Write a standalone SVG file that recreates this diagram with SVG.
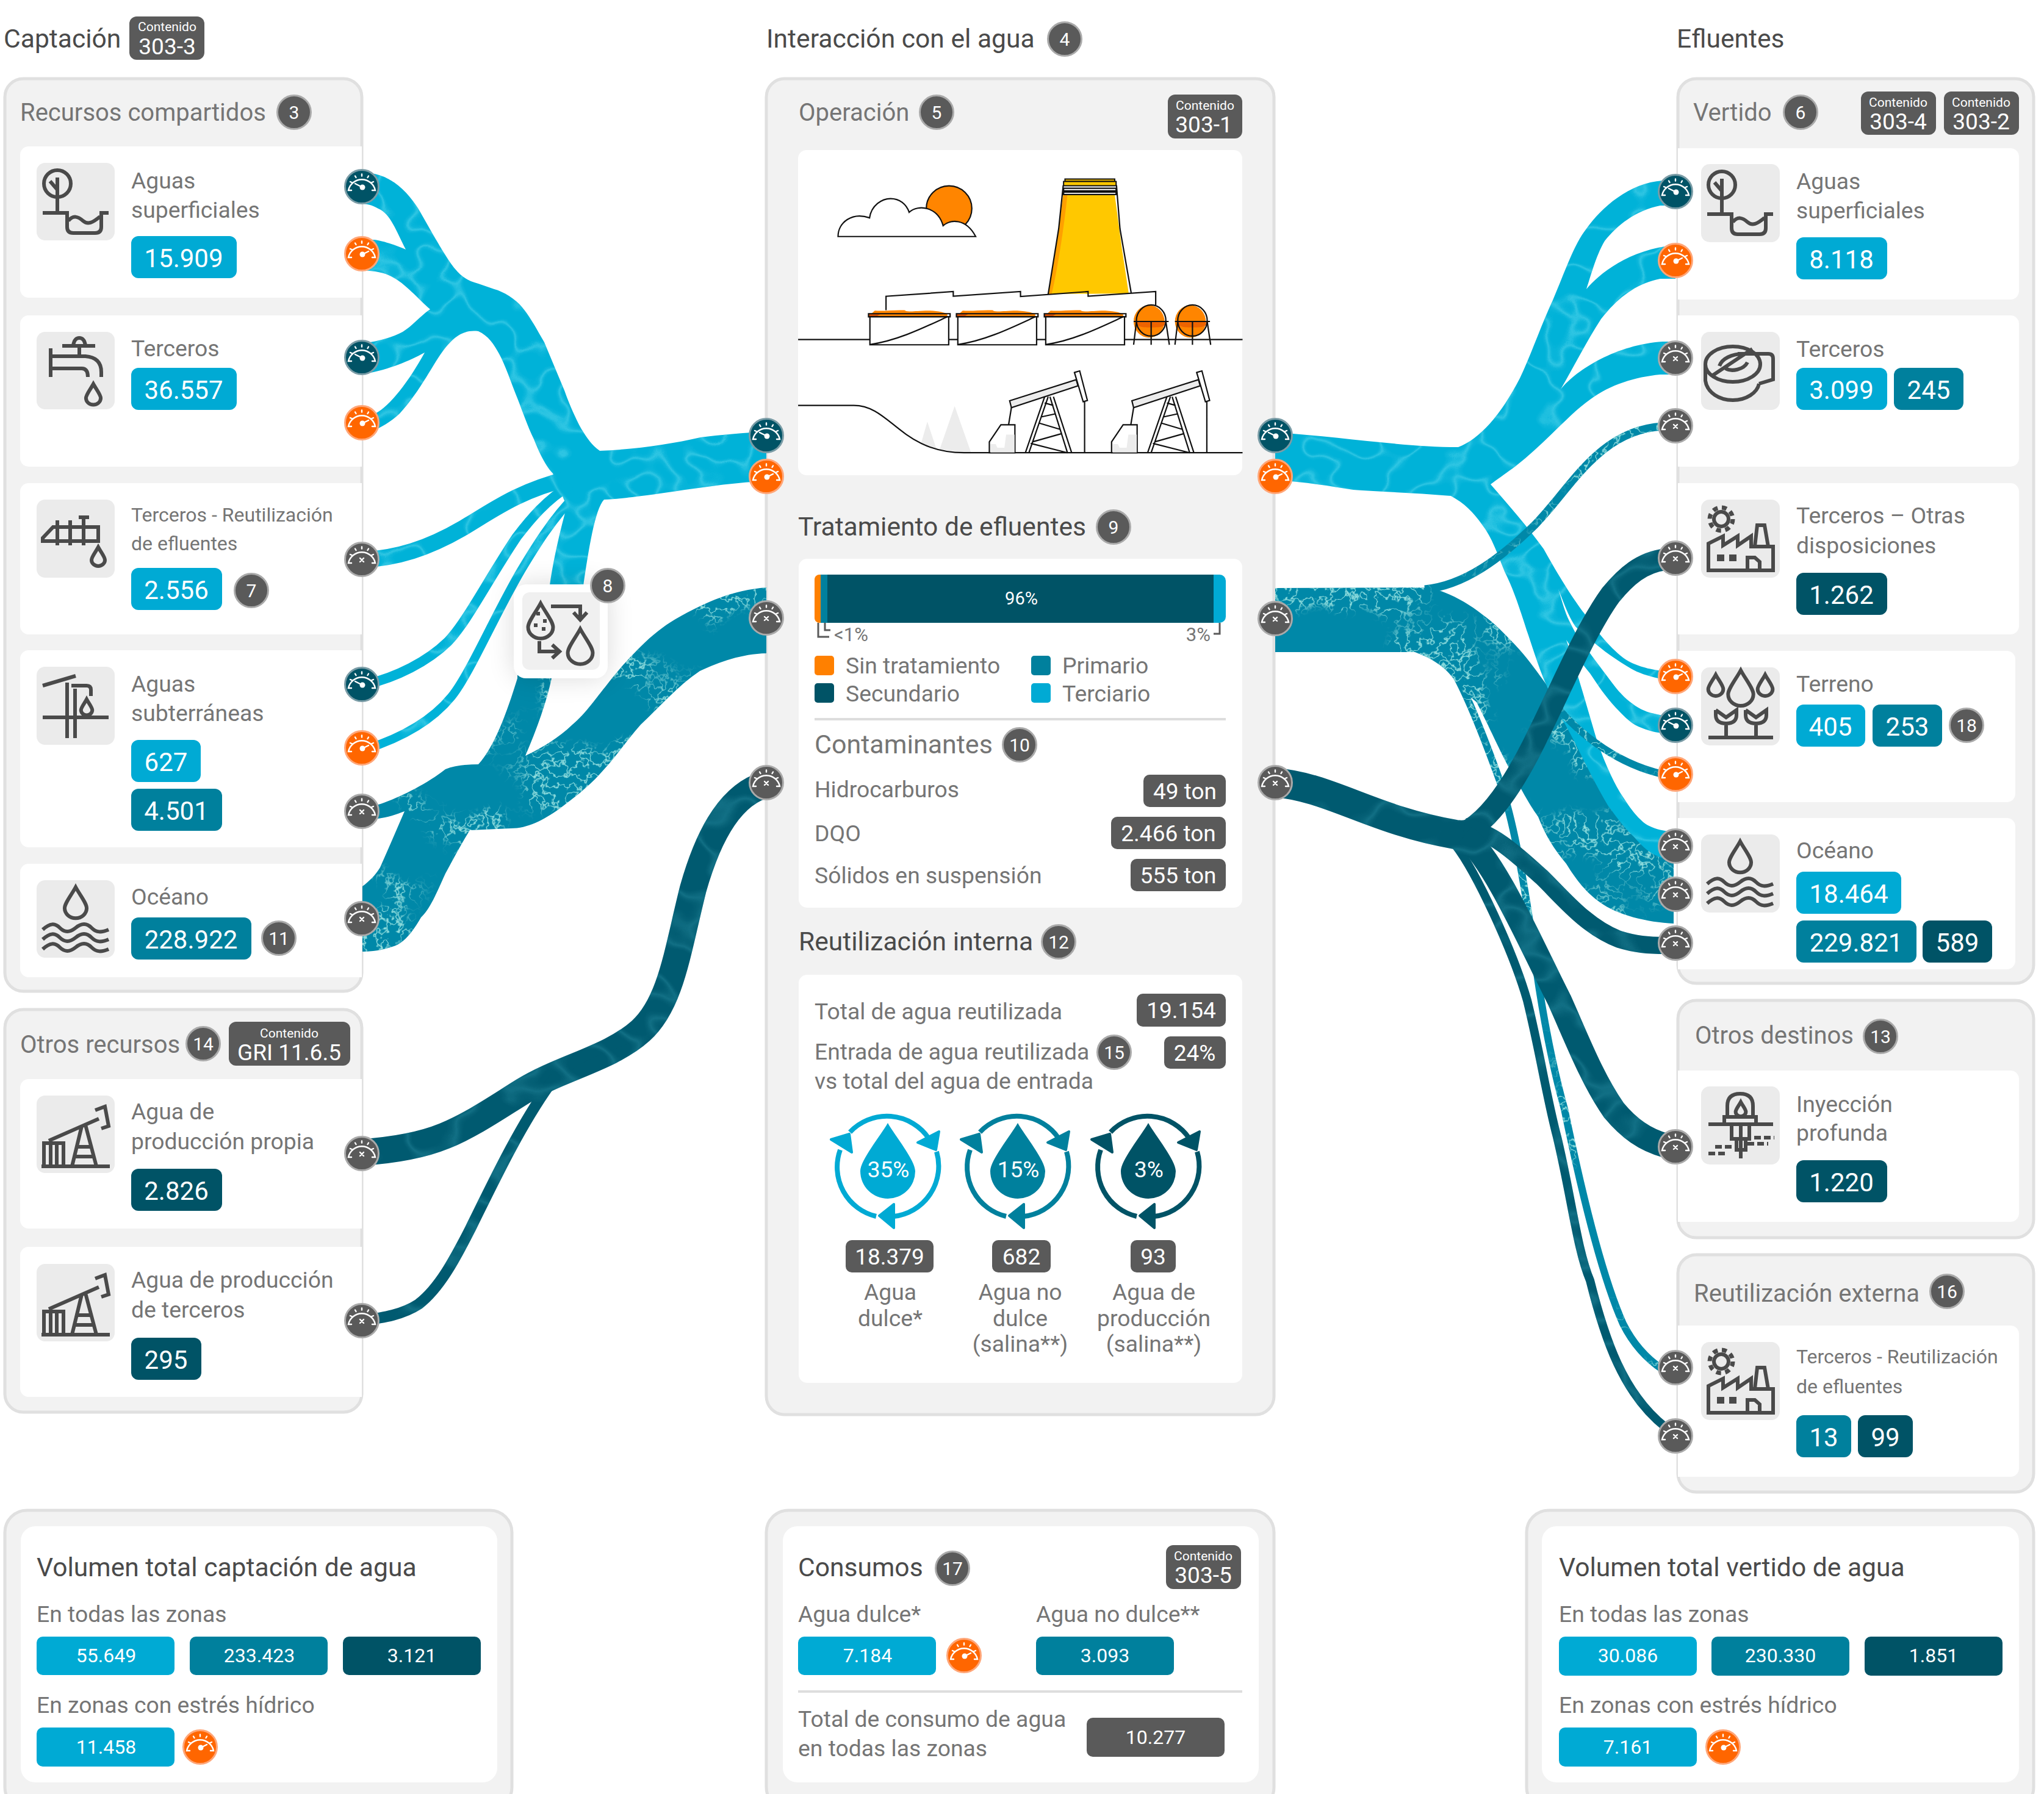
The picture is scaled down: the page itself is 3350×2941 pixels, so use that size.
<svg xmlns="http://www.w3.org/2000/svg" xmlns:xlink="http://www.w3.org/1999/xlink" width="3350" height="2941" viewBox="0 0 3350 2941">
<style>
text{font-family:Roboto,"Liberation Sans",sans-serif}
.h{font-size:42.600px;fill:#4a4a4a}
.s{font-size:40px;fill:#757575}
.l{font-size:37.300px;fill:#757575}
.l2{font-size:32px;fill:#757575}
.c{text-anchor:middle}
.v{font-size:42px;fill:#fff;text-anchor:middle}
.p{font-size:37px;fill:#fff;text-anchor:middle}
.q{font-size:32px;fill:#fff;text-anchor:middle}
.cn{font-size:21px;fill:#fff;text-anchor:middle}
.cv{font-size:37px;fill:#fff;text-anchor:middle}
.n{font-size:30px;fill:#fff;text-anchor:middle}
.panel{fill:#f2f2f2;stroke:#e0e0e0;stroke-width:5}
.card{fill:#fff}
.ibox{fill:#ebebeb}
.bl{fill:#00aad4}.bm{fill:#00809d}.bd{fill:#005366}.bg{fill:#5a5a5a}.bo{fill:#ff8000}
.ic{fill:none;stroke:#4a4a4a;stroke-width:6;vector-effect:non-scaling-stroke}
.ii{fill:#4a4a4a;stroke:none}
.il{fill:none;stroke:#111;stroke-width:2.2;vector-effect:non-scaling-stroke}
.iw{fill:#fff;stroke:#111;stroke-width:2.2;vector-effect:non-scaling-stroke}
.ie{fill:#ececec;stroke:#111;stroke-width:2.2;vector-effect:non-scaling-stroke}
.bad{fill:#5a5a5a;stroke:#aaa;stroke-width:3}
.fl{fill:#00b2d8}.ft{fill:#0088a8}.fd{fill:#005a70}
.sl{fill:none;stroke:#00b2d8}.st{fill:none;stroke:#0088a8}.sd{fill:none;stroke:#005a70}
.gl{fill:none;stroke:#fff;stroke-width:2.400;stroke-linecap:round}
.div{stroke:#ddd;stroke-width:4}
</style>
<defs>
<filter id="wl" filterUnits="userSpaceOnUse" x="0" y="0" width="3350" height="2941" color-interpolation-filters="sRGB">
<feTurbulence type="fractalNoise" baseFrequency=".013 .016" numOctaves="2" seed="4"/>
<feComponentTransfer><feFuncR type="table" tableValues="0 0 0 0 0 0 0 0 0 0 0 0 0 0 .2 .8 .2 0 0 0 0 0 0 0 0 0 0 0 0 0"/></feComponentTransfer>
<feColorMatrix type="matrix" values="0 0 0 0 .55  0 0 0 0 .93  0 0 0 0 .98  .42 0 0 0 0"/>
<feComposite in2="SourceAlpha" operator="in" result="v"/>
<feMerge><feMergeNode in="SourceGraphic"/><feMergeNode in="v"/></feMerge>
</filter>
<filter id="wt" filterUnits="userSpaceOnUse" x="0" y="0" width="3350" height="2941" color-interpolation-filters="sRGB">
<feTurbulence type="fractalNoise" baseFrequency=".055" numOctaves="3" seed="11"/>
<feComponentTransfer><feFuncR type="table" tableValues="0 0 0 0 0 0 0 0 0 0 0 0 0 0 0 .4 1 .4 0 0 0 0 0 0 0 0 0 0 0 0 0 0 0"/></feComponentTransfer>
<feColorMatrix type="matrix" values="0 0 0 0 .7  0 0 0 0 .95  0 0 0 0 .92  .85 0 0 0 0" result="f"/>
<feTurbulence type="fractalNoise" baseFrequency=".009" numOctaves="2" seed="5"/>
<feComponentTransfer><feFuncR type="table" tableValues="0 0 0 0 0 0 0 0 0 .15 .6 1 1 1 1 1 1 1 1 1"/></feComponentTransfer>
<feColorMatrix type="matrix" values="0 0 0 0 1  0 0 0 0 1  0 0 0 0 1  1 0 0 0 0" result="m"/>
<feComposite in="f" in2="m" operator="in" result="fm"/>
<feComposite in="fm" in2="SourceAlpha" operator="in" result="v"/>
<feMerge><feMergeNode in="SourceGraphic"/><feMergeNode in="v"/></feMerge>
</filter>
<filter id="wd" filterUnits="userSpaceOnUse" x="0" y="0" width="3350" height="2941" color-interpolation-filters="sRGB">
<feTurbulence type="fractalNoise" baseFrequency=".012 .015" numOctaves="2" seed="7"/>
<feComponentTransfer><feFuncR type="table" tableValues="0 0 0 0 0 0 0 0 0 .3 .9 .3 0 0 0 0 0 0 0 0"/></feComponentTransfer>
<feColorMatrix type="matrix" values="0 0 0 0 .2  0 0 0 0 .6  0 0 0 0 .68  .38 0 0 0 0"/>
<feComposite in2="SourceAlpha" operator="in" result="v"/>
<feMerge><feMergeNode in="SourceGraphic"/><feMergeNode in="v"/></feMerge>
</filter>
<filter id="sh" x="-40%" y="-40%" width="180%" height="180%"><feGaussianBlur stdDeviation="22"/></filter>
<path id="drop" class="ic" d="M0,-30C8,-15 22,2 22,12A22,20 0 0 1 -22,12C-22,2 -8,-15 0,-30Z"/>
<g id="gauge-glyph">
<path class="gl" d="M-17,6H-22A22.500,22.500 0 0 1 22,6H17M0,-20.500V-17.500M-11,-17.500L-9.500,-15M11,-17.500L9.500,-15M-19,-8L-16.500,-7M19,-8L16.500,-7"/>
</g>
<g id="gd"><circle r="27.500" fill="#005366" stroke="#7a9ca6" stroke-width="3"/><use href="#gauge-glyph"/><path class="gl" d="M1,1L-11,-5"/><circle cx="1" cy="1" r="4.500" fill="#fff"/></g>
<g id="go"><circle r="27.500" fill="#ff6600" stroke="#ffa678" stroke-width="3"/><use href="#gauge-glyph"/><path class="gl" d="M1,1L11,-4"/><circle cx="1" cy="1" r="4.500" fill="#fff"/></g>
<g id="gg"><circle r="27.500" fill="#5a5a5a" stroke="#aaa" stroke-width="3"/><use href="#gauge-glyph"/><path class="gl" d="M-3,-2L3,4M3,-2L-3,4"/></g>
<g id="i-surf"><circle class="ic" cx="34" cy="34" r="22"/><path class="ic" d="M34,24V82M22,30L34,44M10,82H50V105Q50,115 60,115H96Q106,115 106,105V82H118M52,95C60,85 68,88 76,95C84,102 92,98 104,88"/></g>
<g id="i-tap"><path class="ic" d="M23,27V74M23,40H80Q106,42 106,66V74M23,60H74Q84,60 84,74M42,23H96M70,23V40M60,22Q62,10 70,10Q78,10 80,22"/><use href="#drop" transform="translate(93,102) scale(.55)"/></g>
<g id="i-reuse"><path class="ic" d="M10,68V63L27,45H101V68ZM34,34V75M55,34V75M77,29V75M69,29H86"/><use href="#drop" transform="translate(101,93) scale(.5)"/></g>
<g id="i-sub"><path class="ic" d="M10,83H118M50,26V117M63,36V117M10,31L64,15M57,31H82Q89,31 89,38V48"/><use href="#drop" transform="translate(82,66) scale(.42)"/></g>
<g id="i-ocean"><use href="#drop" transform="translate(64,36) scale(.82)"/><path class="ic" d="M10,81C22,70 30,70 38,78C46,86 54,86 64,78C74,70 82,70 90,78C98,86 106,86 118,81M10,97C22,86 30,86 38,94C46,102 54,102 64,94C74,86 82,86 90,94C98,102 106,102 118,97M10,113C22,102 30,102 38,110C46,118 54,118 64,110C74,102 82,102 90,110C98,118 106,118 118,113"/></g>
<g id="i-pump"><path class="ic" d="M8,116H120M12,116V78H44V116M23,78V116M33,78V116M20,74L102,38M96,24L112,18L118,50L106,54M74,50L58,116M80,48L98,116M66,84H88M62,100H94"/></g>
<g id="i-fact"><circle class="ic" cx="33" cy="32" r="12"/><circle cx="33" cy="32" r="19" fill="none" stroke="#4a4a4a" stroke-width="7" stroke-dasharray="8 7"/><path class="ic" d="M12,116V72L36,60V75L60,60V75L82,60V77H118V116ZM88,77L92,42H104L110,77M76,116V95H88L96,102V116"/><rect class="ii" x="26" y="90" width="12" height="11"/><rect class="ii" x="46" y="90" width="12" height="11"/></g>
<g id="i-disc"><ellipse class="ic" cx="52" cy="53" rx="45" ry="29"/><path class="ic" d="M7,53V80C10,100 30,112 52,112C74,112 92,100 95,85M30,56C34,44 50,36 70,36M18,72L84,28M40,60C50,66 70,62 76,50M60,36H110Q118,36 118,44V78L95,85"/></g>
<g id="i-field"><use href="#drop" transform="translate(24,29) scale(.56)"/><use href="#drop" transform="translate(65,33) scale(.94)"/><use href="#drop" transform="translate(105,29) scale(.56)"/><path class="ic" d="M12,115H118M41,115V92M90,115V92M24,70V78Q24,92 41,92Q58,92 58,78V70L41,82L24,70M73,70V78Q73,92 90,92Q107,92 107,78V70L90,82L73,70"/></g>
<g id="i-inj"><path class="ic" d="M12,62H118M43,50V32Q43,12 64,12Q85,12 85,32V50M38,50H90V62H38ZM50,62V86H79V62M58,86V104H73V86M65,62V118"/><use href="#drop" transform="translate(65,37) scale(.38)"/><path class="ic" style="stroke-dasharray:11 5" d="M87,84H120M76,94H110M12,110H42M23,99H50"/></g>
<g id="ring">
<path fill="none" stroke="currentColor" stroke-width="8" d="M-62,-56A83,83 0 0 1 67,-46M80,-24A83,83 0 0 1 10,82M-19,82A83,83 0 0 1 -78,-27"/>
<path fill="currentColor" stroke="currentColor" stroke-width="4" stroke-linejoin="round" d="M84,-57L79,-27L49,-39ZM10,62V101L-14,81ZM-93,-44L-63,-53L-59,-23Z"/>
<path fill="currentColor" d="M0,-71C12,-50 45,-10 45,8A45,45 0 0 1 -45,8C-45,-10 -12,-50 0,-71Z"/>
</g>
<g id="tank"><path d="M345,773L355,763C380,766 410,760 440,762C445,768 460,765 500,763C530,763 555,768 562,775V783H337V773Z" fill="#ff8500"/><path d="M337,773H372L360,782H337Z" fill="#d94e00"/><rect class="il" x="337" y="773" width="233" height="10"/><rect class="iw" x="341" y="783" width="225" height="90"/><path class="il" d="M341,872C420,860 500,815 562,783"/></g>
<g id="sph"><ellipse cx="-2" cy="3" rx="44" ry="52" fill="#ff8500" transform="translate(-4,0)"/><path d="M-42,3H42C42,20 30,22 0,22C-30,22 -42,20 -42,3Z" fill="#e85a00" opacity=".8"/><ellipse class="il" cx="0" cy="0" rx="42" ry="50"/><path class="il" d="M-50,3H50M0,3V78M-42,3L-50,78M42,3L52,78"/></g>
<g id="jack"><path class="iw" d="M682,1220V1185L715,1130H755V1220Z"/><path d="M685,1219V1192H700L705,1204H725L730,1162H754V1219Z" fill="#ececec"/><path class="il" d="M745,1075L737,1130"/><path class="ie" d="M740,1053L930,985L935,1005L745,1075Z"/><path class="iw" d="M925,962L940,957L962,1052L950,1056Z"/><path class="il" d="M954,1056V1220M840,1040L785,1220M850,1040L795,1220M855,1040L905,1220M865,1040L917,1220M840,1060L865,1068M830,1105L870,1095M825,1125L885,1145M805,1185L890,1158M800,1190L905,1220"/></g>
</defs>

<g id="titles">
<text class="h" x="6" y="78">Captación</text>
<g id="c-303-3"><rect class="bg" x="212" y="27" width="123" height="71" rx="12"/><text class="cn" x="274" y="51">Contenido</text><text class="cv" x="274" y="89">303-3</text></g>
<text class="h" x="1256" y="78">Interacción con el agua</text>
<circle class="bad" cx="1745" cy="64" r="27.500"/><text class="n" x="1745" y="75">4</text>
<text class="h" x="2748" y="78">Efluentes</text>
</g>

<g id="panel-recursos">
<rect class="panel" x="8" y="129" width="585" height="1496" rx="30"/>
<text class="s" x="33" y="198">Recursos compartidos</text>
<circle class="bad" cx="482" cy="184" r="27.500"/><text class="n" x="482" y="195">3</text>
</g>
<g id="n-surf-in">
<path class="card" d="M593,240H47A14,14 0 0 0 33,254V474A14,14 0 0 0 47,488H593Z"/>
<rect class="ibox" x="60" y="267" width="128" height="127" rx="14"/><use href="#i-surf" x="60" y="267"/>
<text class="l" x="215" y="309">Aguas</text><text class="l" x="215" y="357">superficiales</text>
<rect class="bl" x="215" y="387" width="173" height="69" rx="12"/><text class="v" x="301" y="438">15.909</text>
</g>
<g id="n-terc-in">
<path class="card" d="M593,517H47A14,14 0 0 0 33,531V751A14,14 0 0 0 47,765H593Z"/>
<rect class="ibox" x="60" y="544" width="128" height="127" rx="14"/><use href="#i-tap" x="60" y="544"/>
<text class="l" x="215" y="584">Terceros</text>
<rect class="bl" x="215" y="603" width="173" height="69" rx="12"/><text class="v" x="301" y="654">36.557</text>
</g>
<g id="n-reuse-in">
<path class="card" d="M593,792H47A14,14 0 0 0 33,806V1026A14,14 0 0 0 47,1040H593Z"/>
<rect class="ibox" x="60" y="819" width="128" height="128" rx="14"/><use href="#i-reuse" x="60" y="819"/>
<text class="l2" x="215" y="855">Terceros - Reutilización</text><text class="l2" x="215" y="902">de efluentes</text>
<rect class="bl" x="215" y="931" width="149" height="69" rx="12"/><text class="v" x="289" y="982">2.556</text>
<circle class="bad" cx="412" cy="968" r="27.500"/><text class="n" x="412" y="979">7</text>
</g>
<g id="n-sub-in">
<path class="card" d="M593,1066H47A14,14 0 0 0 33,1080V1375A14,14 0 0 0 47,1389H593Z"/>
<rect class="ibox" x="60" y="1093" width="128" height="128" rx="14"/><use href="#i-sub" x="60" y="1093"/>
<text class="l" x="215" y="1134">Aguas</text><text class="l" x="215" y="1182">subterráneas</text>
<rect class="bl" x="215" y="1213" width="114" height="69" rx="12"/><text class="v" x="272" y="1264">627</text>
<rect class="bm" x="215" y="1293" width="149" height="69" rx="12"/><text class="v" x="289" y="1344">4.501</text>
</g>
<g id="n-ocean-in">
<path class="card" d="M593,1416H47A14,14 0 0 0 33,1430V1588A14,14 0 0 0 47,1602H593Z"/>
<rect class="ibox" x="60" y="1443" width="128" height="127" rx="14"/><use href="#i-ocean" x="60" y="1443"/>
<text class="l" x="215" y="1483">Océano</text>
<rect class="bm" x="215" y="1504" width="197" height="69" rx="12"/><text class="v" x="313" y="1555">228.922</text>
<circle class="bad" cx="457" cy="1538" r="27.500"/><text class="n" x="457" y="1549">11</text>
</g>

<g id="panel-otros">
<rect class="panel" x="8" y="1655" width="585" height="660" rx="30"/>
<text class="s" x="33" y="1726">Otros recursos</text>
<circle class="bad" cx="333" cy="1711" r="27.500"/><text class="n" x="333" y="1722">14</text>
<g id="c-gri"><rect class="bg" x="375" y="1675" width="199" height="72" rx="12"/><text class="cn" x="474" y="1701">Contenido</text><text class="cv" x="474" y="1738">GRI 11.6.5</text></g>
</g>
<g id="n-prod-own">
<path class="card" d="M593,1769H47A14,14 0 0 0 33,1783V2000A14,14 0 0 0 47,2014H593Z"/>
<rect class="ibox" x="60" y="1796" width="128" height="127" rx="14"/><use href="#i-pump" x="60" y="1796"/>
<text class="l" x="215" y="1835">Agua de</text><text class="l" x="215" y="1884">producción propia</text>
<rect class="bd" x="215" y="1916" width="149" height="69" rx="12"/><text class="v" x="289" y="1967">2.826</text>
</g>
<g id="n-prod-third">
<path class="card" d="M593,2044H47A14,14 0 0 0 33,2058V2276A14,14 0 0 0 47,2290H593Z"/>
<rect class="ibox" x="60" y="2072" width="128" height="127" rx="14"/><use href="#i-pump" x="60" y="2072"/>
<text class="l" x="215" y="2111">Agua de producción</text><text class="l" x="215" y="2160">de terceros</text>
<rect class="bd" x="215" y="2193" width="115" height="69" rx="12"/><text class="v" x="272" y="2244">295</text>
</g>

<g id="panel-operacion">
<rect class="panel" x="1256" y="129" width="832" height="2190" rx="30"/>
<text class="s" x="1309" y="198">Operación</text>
<circle class="bad" cx="1535" cy="184" r="27.500"/><text class="n" x="1535" y="195">5</text>
<g id="c-303-1"><rect class="bg" x="1914" y="155" width="122" height="72" rx="12"/><text class="cn" x="1975" y="180">Contenido</text><text class="cv" x="1973" y="217">303-1</text></g>
</g>
<g id="n-operation">
<rect class="card" x="1308" y="246" width="728" height="533" rx="14"/>
<g transform="translate(1230 120) scale(.574 .51)">
<ellipse cx="567" cy="435" rx="65" ry="73" fill="#ff8500" stroke="#111" stroke-width="2.200" vector-effect="non-scaling-stroke"/>
<path class="iw" d="M250,525C250,480 290,445 340,465C345,425 375,403 400,403C425,403 445,420 453,447C480,420 535,430 550,490C570,470 615,465 643,525Z"/>
<path d="M850,710L880,500L893,390H1040L1060,560L1080,708Z" fill="#ffc800"/>
<path d="M850,710L880,500L893,390H905C895,500 875,640 860,710Z" fill="#ffa000"/>
<path class="il" d="M850,710L880,500L893,360M1045,360L1055,500L1087,706"/>
<rect x="898" y="340" width="142" height="8" fill="#ffc800" stroke="#111" stroke-width="2" vector-effect="non-scaling-stroke"/>
<rect x="894" y="348" width="150" height="14" fill="#ffc800" stroke="#111" stroke-width="2" vector-effect="non-scaling-stroke"/>
<rect class="iw" x="894" y="370" width="150" height="8"/><rect class="iw" x="894" y="382" width="150" height="8"/>
<path class="il" d="M136,856H1405"/>
<path class="il" d="M387,762V717L579,702V717L771,702V718L964,702V717L1157,702V745"/>
<use href="#tank"/><use href="#tank" x="251"/><use href="#tank" x="502"/>
<use href="#sph" x="1144" y="795"/><use href="#sph" x="1262" y="795"/>
<path d="M487,1190L505,1120L530,1205ZM540,1210L583,1070L630,1220Z" fill="#ececec"/>
<path class="il" d="M136,1068H295C400,1068 430,1220 610,1220H1405"/>
<use href="#jack"/><use href="#jack" x="349"/>
</g>
</g>

<g id="n-treatment">
<text class="h" x="1308" y="878">Tratamiento de efluentes</text>
<circle class="bad" cx="1825" cy="864" r="27.500"/><text class="n" x="1825" y="875">9</text>
<rect class="card" x="1309" y="916" width="727" height="572" rx="14"/>
<rect class="bl" x="1335" y="942" width="674" height="79" rx="10"/>
<rect class="bo" x="1335" y="942" width="20" height="79" rx="8"/>
<rect class="bm" x="1345" y="942" width="11" height="79"/>
<rect class="bd" x="1356" y="942" width="633" height="79"/>
<text x="1674" y="991" text-anchor="middle" font-size="29" fill="#fff">96%</text>
<path d="M1341,1021V1044H1359M1352,1021V1033H1361M1999,1021V1039H1989" fill="none" stroke="#5a5a5a" stroke-width="3"/>
<text x="1367" y="1051" font-size="31" fill="#757575">&lt;1%</text>
<text x="1984" y="1051" font-size="31" fill="#757575" text-anchor="end">3%</text>
<rect class="bo" x="1335" y="1075" width="32" height="32" rx="5"/><text class="l" x="1386" y="1104">Sin tratamiento</text>
<rect class="bm" x="1690" y="1075" width="32" height="32" rx="5"/><text class="l" x="1741" y="1104">Primario</text>
<rect class="bd" x="1335" y="1120" width="32" height="32" rx="5"/><text class="l" x="1386" y="1150">Secundario</text>
<rect class="bl" x="1690" y="1120" width="32" height="32" rx="5"/><text class="l" x="1741" y="1150">Terciario</text>
<line class="div" x1="1335" y1="1179" x2="2009" y2="1179"/>
<text x="1335" y="1235" font-size="43" fill="#757575">Contaminantes</text>
<circle class="bad" cx="1671" cy="1221" r="27.500"/><text class="n" x="1671" y="1232">10</text>
<text class="l" x="1335" y="1307">Hidrocarburos</text>
<rect class="bg" x="1874" y="1270" width="135" height="53" rx="10"/><text class="p" x="1942" y="1310">49 ton</text>
<text class="l" x="1335" y="1379">DQO</text>
<rect class="bg" x="1821" y="1339" width="188" height="53" rx="10"/><text class="p" x="1915" y="1379">2.466 ton</text>
<text class="l" x="1335" y="1448">Sólidos en suspensión</text>
<rect class="bg" x="1853" y="1408" width="156" height="53" rx="10"/><text class="p" x="1931" y="1448">555 ton</text>
</g>

<g id="n-reuse">
<text class="h" x="1309" y="1558">Reutilización interna</text>
<circle class="bad" cx="1735" cy="1544" r="27.500"/><text class="n" x="1735" y="1555">12</text>
<rect class="card" x="1309" y="1598" width="727" height="669" rx="14"/>
<text class="l" x="1335" y="1671">Total de agua reutilizada</text>
<rect class="bg" x="1863" y="1629" width="146" height="54" rx="10"/><text class="p" x="1936" y="1669">19.154</text>
<text class="l" x="1335" y="1737">Entrada de agua reutilizada</text>
<text class="l" x="1335" y="1785">vs total del agua de entrada</text>
<circle class="bad" cx="1826" cy="1725" r="27.500"/><text class="n" x="1826" y="1736">15</text>
<rect class="bg" x="1908" y="1699" width="101" height="53" rx="10"/><text class="p" x="1958" y="1739">24%</text>
<use href="#ring" x="1455" y="1912" style="color:#00aad4"/>
<use href="#ring" x="1668" y="1912" style="color:#00809d"/>
<use href="#ring" x="1882" y="1912" style="color:#005366"/>
<text class="p" x="1456" y="1930">35%</text><text class="p" x="1669" y="1930">15%</text><text class="p" x="1883" y="1930">3%</text>
<rect class="bg" x="1386" y="2033" width="144" height="53" rx="10"/><text class="p" x="1458" y="2073">18.379</text>
<rect class="bg" x="1626" y="2033" width="96" height="53" rx="10"/><text class="p" x="1674" y="2073">682</text>
<rect class="bg" x="1853" y="2033" width="74" height="53" rx="10"/><text class="p" x="1890" y="2073">93</text>
<text class="l c" x="1459" y="2131">Agua</text><text class="l c" x="1459" y="2174">dulce*</text>
<text class="l c" x="1672" y="2131">Agua no</text><text class="l c" x="1672" y="2174">dulce</text><text class="l c" x="1672" y="2216">(salina**)</text>
<text class="l c" x="1891" y="2131">Agua de</text><text class="l c" x="1891" y="2174">producción</text><text class="l c" x="1891" y="2216">(salina**)</text>
</g>

<g id="panel-vertido">
<rect class="panel" x="2750" y="129" width="583" height="1483" rx="30"/>
<text class="s" x="2775" y="198">Vertido</text>
<circle class="bad" cx="2951" cy="184" r="27.500"/><text class="n" x="2951" y="195">6</text>
<g id="c-303-4"><rect class="bg" x="3050" y="150" width="123" height="71" rx="12"/><text class="cn" x="3111" y="175">Contenido</text><text class="cv" x="3111" y="212">303-4</text></g>
<g id="c-303-2"><rect class="bg" x="3186" y="150" width="123" height="71" rx="12"/><text class="cn" x="3247" y="175">Contenido</text><text class="cv" x="3247" y="212">303-2</text></g>
</g>
<g id="n-surf-out">
<path class="card" d="M2750,243H3295A14,14 0 0 1 3309,257V477A14,14 0 0 1 3295,491H2750Z"/>
<rect class="ibox" x="2788" y="269" width="129" height="128" rx="14"/><use href="#i-surf" x="2788" y="269"/>
<text class="l" x="2944" y="310">Aguas</text><text class="l" x="2944" y="358">superficiales</text>
<rect class="bl" x="2944" y="389" width="149" height="69" rx="12"/><text class="v" x="3018" y="440">8.118</text>
</g>
<g id="n-terc-out">
<path class="card" d="M2750,517H3295A14,14 0 0 1 3309,531V751A14,14 0 0 1 3295,765H2750Z"/>
<rect class="ibox" x="2788" y="544" width="129" height="128" rx="14"/><use href="#i-disc" x="2788" y="544"/>
<text class="l" x="2944" y="585">Terceros</text>
<rect class="bl" x="2944" y="603" width="149" height="69" rx="12"/><text class="v" x="3018" y="654">3.099</text>
<rect class="bm" x="3104" y="603" width="114" height="69" rx="12"/><text class="v" x="3161" y="654">245</text>
</g>
<g id="n-otras-out">
<path class="card" d="M2750,792H3295A14,14 0 0 1 3309,806V1026A14,14 0 0 1 3295,1040H2750Z"/>
<rect class="ibox" x="2788" y="819" width="129" height="128" rx="14"/><use href="#i-fact" x="2788" y="819"/>
<text class="l" x="2944" y="858">Terceros – Otras</text><text class="l" x="2944" y="907">disposiciones</text>
<rect class="bd" x="2944" y="939" width="149" height="69" rx="12"/><text class="v" x="3018" y="990">1.262</text>
</g>
<g id="n-land-out">
<path class="card" d="M2750,1067H3289A14,14 0 0 1 3303,1081V1301A14,14 0 0 1 3289,1315H2750Z"/>
<rect class="ibox" x="2788" y="1094" width="129" height="128" rx="14"/><use href="#i-field" x="2788" y="1094"/>
<text class="l" x="2944" y="1134">Terreno</text>
<rect class="bl" x="2944" y="1155" width="113" height="69" rx="12"/><text class="v" x="3000" y="1206">405</text>
<rect class="bm" x="3069" y="1155" width="114" height="69" rx="12"/><text class="v" x="3126" y="1206">253</text>
<circle class="bad" cx="3223" cy="1189" r="27.500"/><text class="n" x="3223" y="1200">18</text>
</g>
<g id="n-ocean-out">
<path class="card" d="M2750,1341H3289A14,14 0 0 1 3303,1355V1575A14,14 0 0 1 3289,1589H2750Z"/>
<rect class="ibox" x="2788" y="1368" width="129" height="128" rx="14"/><use href="#i-ocean" x="2788" y="1368"/>
<text class="l" x="2944" y="1407">Océano</text>
<rect class="bl" x="2944" y="1429" width="172" height="69" rx="12"/><text class="v" x="3030" y="1480">18.464</text>
<rect class="bm" x="2944" y="1509" width="197" height="69" rx="12"/><text class="v" x="3042" y="1560">229.821</text>
<rect class="bd" x="3151" y="1509" width="114" height="69" rx="12"/><text class="v" x="3208" y="1560">589</text>
</g>
<g id="panel-destinos">
<rect class="panel" x="2750" y="1640" width="583" height="389" rx="30"/>
<text class="s" x="2778" y="1711">Otros destinos</text>
<circle class="bad" cx="3082" cy="1699" r="27.500"/><text class="n" x="3082" y="1710">13</text>
</g>
<g id="n-inj-out">
<path class="card" d="M2750,1755H3295A14,14 0 0 1 3309,1769V1989A14,14 0 0 1 3295,2003H2750Z"/>
<rect class="ibox" x="2788" y="1781" width="129" height="128" rx="14"/><use href="#i-inj" x="2788" y="1781"/>
<text class="l" x="2944" y="1823">Inyección</text><text class="l" x="2944" y="1870">profunda</text>
<rect class="bd" x="2944" y="1902" width="149" height="69" rx="12"/><text class="v" x="3018" y="1953">1.220</text>
</g>
<g id="panel-externa">
<rect class="panel" x="2750" y="2057" width="583" height="389" rx="30"/>
<text class="s" x="2776" y="2134">Reutilización externa</text>
<circle class="bad" cx="3191" cy="2117" r="27.500"/><text class="n" x="3191" y="2128">16</text>
</g>
<g id="n-ext-out">
<path class="card" d="M2750,2173H3295A14,14 0 0 1 3309,2187V2407A14,14 0 0 1 3295,2421H2750Z"/>
<rect class="ibox" x="2788" y="2200" width="129" height="128" rx="14"/><use href="#i-fact" x="2788" y="2200"/>
<text class="l2" x="2944" y="2235">Terceros - Reutilización</text><text class="l2" x="2944" y="2284">de efluentes</text>
<rect class="bm" x="2944" y="2320" width="90" height="69" rx="12"/><text class="v" x="2989" y="2371">13</text>
<rect class="bd" x="3045" y="2320" width="90" height="69" rx="12"/><text class="v" x="3090" y="2371">99</text>
</g>

<g id="n-total-in">
<rect class="panel" x="8" y="2476" width="831" height="490" rx="36"/>
<rect class="card" x="34" y="2502" width="781" height="420" rx="24"/>
<text class="h" x="60" y="2584">Volumen total captación de agua</text>
<text class="l" x="60" y="2659">En todas las zonas</text>
<rect class="bl" x="60" y="2683" width="226" height="63" rx="10"/><text class="q" x="174" y="2725">55.649</text>
<rect class="bm" x="311" y="2683" width="226" height="63" rx="10"/><text class="q" x="425" y="2725">233.423</text>
<rect class="bd" x="562" y="2683" width="226" height="63" rx="10"/><text class="q" x="675" y="2725">3.121</text>
<text class="l" x="60" y="2808">En zonas con estrés hídrico</text>
<rect class="bl" x="60" y="2832" width="226" height="64" rx="10"/><text class="q" x="174" y="2875">11.458</text>
<use href="#go" x="328" y="2864"/>
</g>
<g id="n-consumption">
<rect class="panel" x="1256" y="2476" width="832" height="490" rx="36"/>
<rect class="card" x="1283" y="2502" width="780" height="420" rx="24"/>
<text class="h" x="1308" y="2584">Consumos</text>
<circle class="bad" cx="1561" cy="2571" r="27.500"/><text class="n" x="1561" y="2582">17</text>
<g id="c-303-5"><rect class="bg" x="1911" y="2533" width="123" height="72" rx="12"/><text class="cn" x="1972" y="2558">Contenido</text><text class="cv" x="1972" y="2595">303-5</text></g>
<text class="l" x="1308" y="2659">Agua dulce*</text><text class="l" x="1698" y="2659">Agua no dulce**</text>
<rect class="bl" x="1308" y="2683" width="226" height="63" rx="10"/><text class="q" x="1422" y="2725">7.184</text>
<use href="#go" x="1580" y="2714"/>
<rect class="bm" x="1698" y="2683" width="226" height="63" rx="10"/><text class="q" x="1811" y="2725">3.093</text>
<line class="div" x1="1308" y1="2773" x2="2036" y2="2773"/>
<text class="l" x="1308" y="2831">Total de consumo de agua</text><text class="l" x="1308" y="2879">en todas las zonas</text>
<rect class="bg" x="1781" y="2816" width="226" height="64" rx="10"/><text class="q" x="1894" y="2859">10.277</text>
</g>
<g id="n-total-out">
<rect class="panel" x="2502" y="2476" width="831" height="490" rx="36"/>
<rect class="card" x="2527" y="2502" width="782" height="420" rx="24"/>
<text class="h" x="2555" y="2584">Volumen total vertido de agua</text>
<text class="l" x="2555" y="2659">En todas las zonas</text>
<rect class="bl" x="2555" y="2683" width="226" height="64" rx="10"/><text class="q" x="2668" y="2725">30.086</text>
<rect class="bm" x="2805" y="2683" width="226" height="64" rx="10"/><text class="q" x="2918" y="2725">230.330</text>
<rect class="bd" x="3056" y="2683" width="226" height="64" rx="10"/><text class="q" x="3169" y="2725">1.851</text>
<text class="l" x="2555" y="2808">En zonas con estrés hídrico</text>
<rect class="bl" x="2555" y="2832" width="226" height="64" rx="10"/><text class="q" x="2668" y="2875">7.161</text>
<use href="#go" x="2824" y="2864"/>
</g>

<g id="connectors">
<g filter="url(#wt)">
<path class="ft" d="M593,1320L620,1319C650,1310 700,1285 730,1261C745,1255 765,1253 784,1253C810,1225 830,1170 848,1112L848,1100L906,1100L904,1112C896,1150 880,1195 861,1239C890,1225 915,1210 938,1188C960,1170 980,1140 992,1126C1015,1095 1040,1070 1050,1060C1070,1040 1090,1025 1107,1015C1160,985 1200,968 1256,963L1256,1071C1215,1072 1180,1085 1147,1100C1110,1125 1080,1160 1050,1188C1030,1210 1010,1240 992,1259C970,1285 945,1305 918,1325C890,1345 865,1358 837,1358L770,1361C755,1385 745,1405 730,1432C715,1465 705,1490 690,1504C675,1530 660,1548 643,1552C625,1558 610,1560 594,1560L594,1453C605,1445 615,1435 623,1422C635,1395 650,1360 663,1330C650,1335 635,1340 620,1342L593,1345Z"/>
<path class="ft" d="M2090,964L2330,963C2345,964 2355,966 2367,971C2390,980 2410,992 2429,1007C2450,1022 2465,1038 2484,1058C2500,1075 2515,1095 2530,1116C2570,1170 2640,1340 2743,1390L2743,1514C2700,1512 2650,1500 2622,1479C2600,1463 2585,1445 2567,1416C2550,1395 2535,1375 2521,1339C2500,1310 2490,1285 2475,1262C2460,1235 2440,1190 2420,1151L2392,1128C2380,1105 2360,1084 2319,1069L2090,1069Z"/>
</g>
<g filter="url(#wl)">
<path class="fl" d="M593,283C620,283 635,292 646,299C665,312 680,332 689,348L710,385C720,402 735,428 746,441C755,452 765,460 784,465L810,474C825,478 845,490 856,504C868,518 880,540 892,561L925,640C932,660 945,690 954,705C962,718 970,730 983,739C1040,737 1100,728 1148,717C1180,713 1220,709 1256,708L1256,789C1200,790 1120,804 1060,812C1030,816 1010,818 990,819C975,835 965,900 956,960L901,960C905,930 915,880 929,830L906,776C895,765 885,745 875,720C865,700 855,670 846,648C838,628 828,598 818,580C810,565 800,550 784,543C760,540 745,552 730,570C710,595 690,640 655,678C640,692 625,700 610,707L593,715L593,685L615,678C640,665 670,625 696,578C670,592 640,605 598,613L593,613L593,560L598,562C620,560 645,552 660,544C675,535 690,517 705,507C685,490 665,465 641,453C630,447 615,444 593,443L593,392L612,393C620,393 645,400 665,409C650,380 640,350 620,342C610,336 600,334 593,334Z"/>
<path class="sl" stroke-width="26" d="M593,918C650,915 700,900 760,865C810,835 850,805 930,785"/>
<path class="sl" stroke-width="16" d="M600,1122C650,1110 700,1085 734,1052C765,1020 800,950 847,880C870,850 895,820 935,795"/>
<path class="sl" stroke-width="14" d="M600,1228C650,1212 705,1185 740,1142C770,1105 810,1010 854,935C875,900 905,850 945,810"/>
<path class="fl" d="M2090,709C2200,716 2300,733 2390,733C2425,720 2460,680 2491,620C2510,580 2525,535 2545,492C2565,445 2580,400 2600,375C2625,340 2670,300 2725,296L2746,296L2746,337L2721,337C2680,345 2650,370 2630,395C2615,420 2605,460 2600,474C2620,450 2670,408 2746,402L2746,457L2721,457C2680,465 2650,490 2624,523C2600,560 2580,600 2558,638C2585,605 2650,565 2725,560L2746,560L2746,614L2721,614C2680,618 2640,630 2606,655C2570,680 2530,730 2479,768C2465,778 2455,785 2443,794C2470,825 2505,865 2530,900C2555,945 2580,985 2600,1010C2620,1040 2650,1075 2673,1086C2690,1094 2705,1098 2746,1103L2746,1113L2718,1112C2700,1108 2685,1103 2673,1096C2650,1082 2635,1072 2618,1058C2600,1043 2590,1035 2582,1027C2570,1010 2562,985 2554,966C2560,985 2565,1005 2573,1020C2585,1045 2595,1058 2606,1071C2620,1090 2635,1110 2648,1127C2660,1142 2672,1152 2685,1160C2695,1166 2708,1171 2746,1176L2746,1204L2718,1201C2705,1199 2695,1195 2685,1191C2670,1184 2660,1172 2648,1160C2630,1140 2620,1125 2606,1104C2590,1085 2578,1065 2567,1049C2580,1085 2600,1155 2618,1216C2630,1250 2645,1285 2661,1308C2675,1330 2690,1348 2703,1354C2715,1360 2725,1362 2746,1364L2746,1408L2723,1406C2700,1398 2690,1385 2677,1371C2660,1355 2650,1340 2635,1320C2620,1295 2605,1265 2594,1243C2580,1215 2570,1195 2557,1173C2545,1150 2540,1135 2534,1122C2520,1090 2510,1055 2502,1033C2490,995 2480,965 2466,937C2455,910 2445,880 2429,860C2415,840 2400,825 2378,813C2320,808 2260,806 2218,803C2180,797 2140,790 2090,787Z"/>
</g>
<g filter="url(#wt)">
<path class="st" stroke-width="13" d="M2335,966C2400,960 2460,915 2516,860C2575,800 2620,705 2725,699"/>
<path class="st" stroke-width="12" d="M2545,1150C2575,1190 2640,1250 2725,1269"/>
<path class="st" stroke-width="12" d="M2385,1105C2410,1150 2440,1230 2459,1283C2480,1345 2495,1430 2510,1530C2525,1650 2545,1750 2564,1818C2585,1920 2620,2080 2660,2170C2675,2200 2695,2225 2725,2245"/>
</g>
<g filter="url(#wd)">
<path class="sd" stroke-width="44" d="M593,1889C640,1886 690,1878 729,1862C775,1843 815,1815 857,1789C920,1750 1000,1735 1050,1690C1100,1645 1110,1560 1136,1457C1155,1390 1190,1300 1260,1285"/>
<path class="sd" stroke-width="18" d="M593,2165C630,2160 660,2155 686,2138C720,2112 745,2065 771,2014C810,1935 850,1850 900,1779C940,1725 990,1720 1045,1695"/>
<path class="sd" stroke-width="48" d="M2090,1283C2180,1290 2250,1345 2385,1368C2400,1370 2415,1368 2430,1360"/>
<path class="sd" stroke-width="36" d="M2400,1365C2440,1345 2480,1290 2523,1200C2560,1125 2600,1030 2640,975C2665,945 2690,922 2730,917"/>
<path class="sd" stroke-width="28" d="M2400,1355C2450,1365 2490,1405 2527,1438C2560,1470 2600,1520 2654,1540C2680,1548 2700,1550 2730,1550"/>
<path class="sd" stroke-width="40" d="M2400,1370C2450,1410 2510,1550 2556,1640C2585,1705 2610,1770 2645,1820C2670,1850 2695,1868 2730,1878"/>
<path class="sd" stroke-width="14" d="M2385,1385C2420,1430 2480,1560 2503,1640C2525,1730 2535,1800 2552,1864C2575,1960 2585,2050 2606,2099C2630,2195 2660,2285 2730,2340"/>
</g>
</g>

<g id="n-treatment-icon">
<rect x="842" y="958" width="154" height="154" rx="20" fill="#000" opacity=".14" filter="url(#sh)"/>
<rect x="842" y="958" width="154" height="154" rx="20" fill="#fff"/>
<rect x="856" y="971" width="127" height="127" rx="12" fill="#f0f0f0"/>
<use href="#drop" transform="translate(886,1017) scale(.93)"/>
<use href="#drop" transform="translate(951,1059) scale(.93)"/>
<path class="ic" d="M903,994H951V1014M940,1004L951,1016L962,1004M884,1051V1068H915M905,1057L917,1068L905,1079"/>
<rect class="ii" x="879" y="1003" width="6" height="6"/><rect class="ii" x="890" y="1015" width="6" height="6"/><rect class="ii" x="875" y="1022" width="6" height="6"/><rect class="ii" x="888" y="1028" width="6" height="6"/>
<circle class="bad" cx="996" cy="960" r="27.500"/><text class="n" x="996" y="971">8</text>
</g>

<g id="ports">
<use href="#gd" x="593" y="306"/><use href="#go" x="593" y="416"/><use href="#gd" x="593" y="586"/><use href="#go" x="593" y="693"/>
<use href="#gg" x="593" y="917"/><use href="#gd" x="593" y="1122"/><use href="#go" x="593" y="1226"/><use href="#gg" x="593" y="1330"/><use href="#gg" x="593" y="1506"/>
<use href="#gg" x="593" y="1891"/><use href="#gg" x="593" y="2165"/>
<use href="#gd" x="1256" y="714"/><use href="#go" x="1256" y="781"/><use href="#gg" x="1256" y="1013"/><use href="#gg" x="1256" y="1283"/>
<use href="#gd" x="2090" y="714"/><use href="#go" x="2090" y="781"/><use href="#gg" x="2090" y="1014"/><use href="#gg" x="2090" y="1283"/>
<use href="#gd" x="2746" y="314"/><use href="#go" x="2746" y="427"/><use href="#gg" x="2746" y="587"/><use href="#gg" x="2746" y="698"/>
<use href="#gg" x="2746" y="915"/><use href="#go" x="2746" y="1109"/><use href="#gd" x="2746" y="1189"/><use href="#go" x="2746" y="1269"/>
<use href="#gg" x="2746" y="1387"/><use href="#gg" x="2746" y="1466"/><use href="#gg" x="2746" y="1546"/>
<use href="#gg" x="2746" y="1880"/><use href="#gg" x="2746" y="2242"/><use href="#gg" x="2746" y="2354"/>
</g>
</svg>
